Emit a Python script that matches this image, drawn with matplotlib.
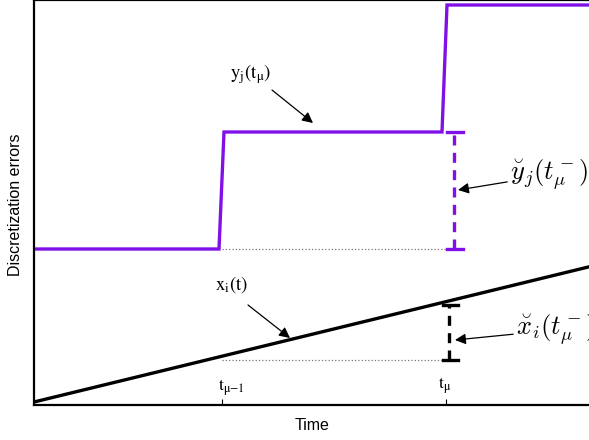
import matplotlib.pyplot as plt

plt.rcParams['font.family'] = ['Liberation Sans', 'DejaVu Sans']

# time axis in arbitrary units, errors in arbitrary units
t_prev = 1.88          # t_{mu-1}
t_mu = 4.12            # t_mu

# y_j(t) : quantized state (staircase)
y_time = [0.0, 1.85, 1.90, 4.08, 4.13, 6.2]
y_vals = [1.56, 1.56, 2.73, 2.73, 4.00, 4.00]

# x_i(t) : continuous state (ramp)
x_time = [0.0, 6.2]
x_vals = [0.03, 1.54]

# discretization error bars
y_err_x = 4.20
y_err_lo, y_err_hi = 1.56, 2.73
x_err_x = 4.15
x_err_lo, x_err_hi = 0.45, 1.00

purple = '#8010e6'

fig = plt.figure(figsize=(5.89, 4.40), dpi=100)
ax = fig.add_axes([34/589, 35/440, 600/589, 405/440])

ax.plot(y_time, y_vals, color=purple, lw=2.4, solid_joinstyle='miter')
ax.plot(x_time, x_vals, color='black', lw=2.4)

# dotted reference levels
ax.plot([t_prev, y_err_x], [y_err_lo, y_err_lo], ':', color='#777777', lw=0.9)
ax.plot([t_prev, x_err_x], [x_err_lo, x_err_lo], ':', color='#777777', lw=0.9)

# error bars
ax.plot([y_err_x, y_err_x], [y_err_lo, y_err_hi], '--', color=purple, lw=2.4, dashes=(3, 2.2))
ax.plot([y_err_x - 0.07, y_err_x + 0.09], [y_err_hi, y_err_hi], color=purple, lw=2.4)
ax.plot([y_err_x - 0.07, y_err_x + 0.09], [y_err_lo, y_err_lo], color=purple, lw=2.4)
ax.plot([x_err_x, x_err_x], [x_err_lo, x_err_hi], '--', color='black', lw=2.4, dashes=(3, 2.2))
ax.plot([x_err_x - 0.06, x_err_x + 0.09], [x_err_hi, x_err_hi], color='black', lw=2.4)
ax.plot([x_err_x - 0.06, x_err_x + 0.09], [x_err_lo, x_err_lo], color='black', lw=2.4)

ax.set_xlim(0, 6.0)
ax.set_ylim(0, 4.05)
ax.set_yticks([])
ax.set_xticks([t_prev, t_mu])
ax.set_xticklabels([])
ax.tick_params(axis='x', direction='in', length=4, width=0.8)
for s in ax.spines.values():
    s.set_linewidth(1.6)

# tick labels drawn inside the axes
ax.text(t_prev - 0.04, 0.07, r'$\mathrm{t_{\mu{-}1}}$', fontsize=12.5,
        math_fontfamily='stix', ha='left', va='bottom')
ax.text(t_mu - 0.08, 0.09, r'$\mathrm{t_\mu}$', fontsize=12.5,
        math_fontfamily='stix', ha='left', va='bottom')

arrow = dict(arrowstyle='-|>', color='black', lw=0.9, mutation_scale=16,
             shrinkA=0, shrinkB=0)
ax.text(2.17, 3.31, r'$\mathrm{y_j(t_\mu)}$', fontsize=13.5,
        math_fontfamily='stix', ha='center', va='center')
ax.annotate('', xy=(2.79, 2.82), xytext=(2.38, 3.15), arrowprops=arrow)
ax.text(1.98, 1.20, r'$\mathrm{x_i(t)}$', fontsize=13.5,
        math_fontfamily='stix', ha='center', va='center')
ax.annotate('', xy=(2.56, 0.67), xytext=(2.14, 1.00), arrowprops=arrow)
ax.annotate(r'$\breve{y}_j(t_\mu^-)$', xy=(4.24, 2.15), xytext=(4.76, 2.30),
            fontsize=19, math_fontfamily='cm', ha='left', va='center',
            arrowprops=arrow)
ax.annotate(r'$\breve{x}_i(t_\mu^-)$', xy=(4.21, 0.65), xytext=(4.82, 0.75),
            fontsize=19, math_fontfamily='cm', ha='left', va='center',
            arrowprops=arrow)

fig.text(312/589, 1 - 425/440, 'Time', fontsize=11.5, ha='center', va='center')
fig.text(16/589, 1 - 205/440, 'Discretization errors', fontsize=11.5,
         ha='center', va='center', rotation=90)

fig.savefig('out.png', dpi=100)
